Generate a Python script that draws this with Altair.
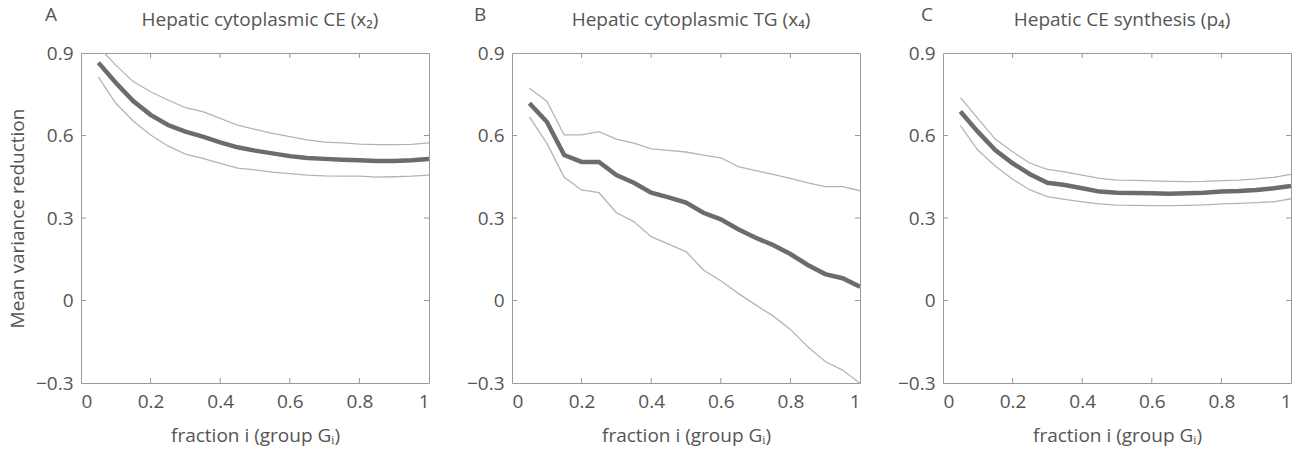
import altair as alt
import pandas as pd

# Fraction of the group retained (x) shared by every panel
FRACTION = [0.05, 0.10, 0.15, 0.20, 0.25, 0.30, 0.35, 0.40, 0.45, 0.50,
            0.55, 0.60, 0.65, 0.70, 0.75, 0.80, 0.85, 0.90, 0.95, 1.00]

# Panel A: hepatic cytoplasmic CE
A_MEAN = [0.865, 0.792, 0.725, 0.675, 0.638, 0.614, 0.596, 0.575, 0.557, 0.545,
          0.535, 0.525, 0.518, 0.515, 0.512, 0.510, 0.507, 0.507, 0.510, 0.515]
A_UPPER = [0.922, 0.856, 0.796, 0.759, 0.729, 0.701, 0.687, 0.662, 0.638, 0.622,
           0.608, 0.596, 0.584, 0.576, 0.573, 0.569, 0.567, 0.567, 0.568, 0.573]
A_LOWER = [0.812, 0.717, 0.653, 0.602, 0.562, 0.532, 0.517, 0.499, 0.481, 0.475,
           0.467, 0.461, 0.456, 0.453, 0.452, 0.452, 0.449, 0.450, 0.452, 0.456]

# Panel B: hepatic cytoplasmic TG
B_MEAN = [0.717, 0.650, 0.529, 0.504, 0.504, 0.456, 0.428, 0.392, 0.375, 0.356,
          0.319, 0.295, 0.259, 0.228, 0.202, 0.169, 0.129, 0.096, 0.081, 0.050]
B_UPPER = [0.772, 0.725, 0.602, 0.602, 0.614, 0.587, 0.572, 0.551, 0.546, 0.540,
           0.529, 0.519, 0.487, 0.472, 0.459, 0.444, 0.428, 0.414, 0.414, 0.399]
B_LOWER = [0.668, 0.572, 0.448, 0.402, 0.392, 0.319, 0.287, 0.232, 0.205, 0.178,
           0.111, 0.072, 0.026, -0.016, -0.056, -0.105, -0.168, -0.222, -0.253, -0.301]

# Panel C: hepatic CE synthesis
C_MEAN = [0.687, 0.614, 0.547, 0.499, 0.459, 0.428, 0.420, 0.408, 0.396, 0.392,
          0.391, 0.390, 0.388, 0.390, 0.392, 0.396, 0.398, 0.402, 0.408, 0.416]
C_UPPER = [0.738, 0.662, 0.587, 0.541, 0.499, 0.477, 0.468, 0.456, 0.444, 0.438,
           0.437, 0.435, 0.433, 0.432, 0.433, 0.436, 0.438, 0.442, 0.448, 0.459]
C_LOWER = [0.636, 0.547, 0.489, 0.441, 0.402, 0.378, 0.368, 0.359, 0.351, 0.347,
           0.346, 0.345, 0.345, 0.346, 0.348, 0.351, 0.353, 0.356, 0.359, 0.370]

X_TICKS = [0, 0.2, 0.4, 0.6, 0.8, 1]
Y_TICKS = [-0.3, 0, 0.3, 0.6, 0.9]
X_INNER = [0.2, 0.4, 0.6, 0.8]
Y_INNER = [0, 0.3, 0.6]

W, H = 348, 330
FONT = "Open Sans"
FS = 19
TEXT = "#555555"
FRAME = "#9a9a9a"
MEAN_COLOR = "#6c6c6c"
BAND_COLOR = "#b4b4b4"
TICK_LEN = 5


def panel(letter, title, mean, upper, lower, y_title, letter_dx):
    rows = []
    for series, vals in (("upper", upper), ("lower", lower), ("mean", mean)):
        for f, v in zip(FRACTION, vals):
            rows.append({"fraction": f, "value": v, "series": series})
    df = pd.DataFrame(rows)

    x_scale = alt.Scale(domain=[0, 1], nice=False, zero=False)
    y_scale = alt.Scale(domain=[-0.3, 0.9], nice=False, zero=False)
    x_axis = alt.Axis(
        values=X_TICKS, ticks=False, domain=False, grid=False,
        labelExpr="datum.value == 0 || datum.value == 1 ? format(datum.value, 'd') : format(datum.value, '.1f')",
        labelPadding=9, labelFontSize=FS, labelColor=TEXT, labelFont=FONT,
        title="fraction i (group Gᵢ)", titleFontSize=FS, titleFont=FONT,
        titleColor=TEXT, titleFontWeight="normal", titlePadding=15,
    )
    y_axis = alt.Axis(
        values=Y_TICKS, ticks=False, domain=False, grid=False,
        labelExpr="datum.value == 0 ? '0' : replace(format(datum.value, '.1f'), '-', '\u2212')",
        labelPadding=8, labelFontSize=FS, labelColor=TEXT, labelFont=FONT,
        minExtent=46, maxExtent=46,
        title=y_title, titleFontSize=FS, titleFont=FONT, titleColor=TEXT,
        titleFontWeight="normal", titlePadding=8,
    )
    x_enc = alt.X("fraction:Q", scale=x_scale, axis=x_axis)
    y_enc = alt.Y("value:Q", scale=y_scale, axis=y_axis)

    base = alt.Chart(df)
    bands = base.transform_filter("datum.series != 'mean'").mark_line(
        color=BAND_COLOR, strokeWidth=1.3, clip=True
    ).encode(x=x_enc, y=y_enc, detail="series:N")
    center = base.transform_filter("datum.series == 'mean'").mark_line(
        color=MEAN_COLOR, strokeWidth=4.5, clip=True
    ).encode(x=x_enc, y=y_enc)

    # inward-pointing tick marks on all four sides of the frame
    xt = alt.Chart(pd.DataFrame({"t": X_INNER}))
    yt = alt.Chart(pd.DataFrame({"t": Y_INNER}))
    x_tick_enc = alt.X("t:Q", scale=x_scale, axis=x_axis)
    y_tick_enc = alt.Y("t:Q", scale=y_scale, axis=y_axis)
    ticks_bottom = xt.mark_rule(color=FRAME, strokeWidth=1).encode(
        x=x_tick_enc, y=alt.value(H), y2=alt.value(H - TICK_LEN))
    ticks_top = xt.mark_rule(color=FRAME, strokeWidth=1).encode(
        x=x_tick_enc, y=alt.value(0), y2=alt.value(TICK_LEN))
    ticks_left = yt.mark_rule(color=FRAME, strokeWidth=1).encode(
        y=y_tick_enc, x=alt.value(0), x2=alt.value(TICK_LEN))
    ticks_right = yt.mark_rule(color=FRAME, strokeWidth=1).encode(
        y=y_tick_enc, x=alt.value(W), x2=alt.value(W - TICK_LEN))

    # panel letter and panel heading above the frame
    tag = alt.Chart(pd.DataFrame({"tag": [letter]})).mark_text(
        font=FONT, fontSize=FS, color=TEXT, align="left", baseline="middle"
    ).encode(x=alt.value(letter_dx), y=alt.value(-38), text="tag:N")
    heading = alt.Chart(pd.DataFrame({"heading": [title]})).mark_text(
        font=FONT, fontSize=FS, color=TEXT, align="center", baseline="middle"
    ).encode(x=alt.value(W / 2 + 5), y=alt.value(-33), text="heading:N")

    return alt.layer(
        bands, center, ticks_bottom, ticks_top, ticks_left, ticks_right,
        tag, heading
    ).properties(width=W, height=H)


chart = alt.hconcat(
    panel("A", "Hepatic cytoplasmic CE (x₂)", A_MEAN, A_UPPER, A_LOWER,
          "Mean variance reduction", -36),
    panel("B", "Hepatic cytoplasmic TG (x₄)", B_MEAN, B_UPPER, B_LOWER,
          "", -38),
    panel("C", "Hepatic CE synthesis (p₄)", C_MEAN, C_UPPER, C_LOWER,
          "", -22),
    spacing=83,
    bounds="flush",
).properties(
    padding={"left": 7, "top": 5, "right": 5, "bottom": 5},
    background="white",
).configure_view(stroke=FRAME, strokeWidth=1)

chart.save("out.html", embed_options={"renderer": "svg", "actions": False})
